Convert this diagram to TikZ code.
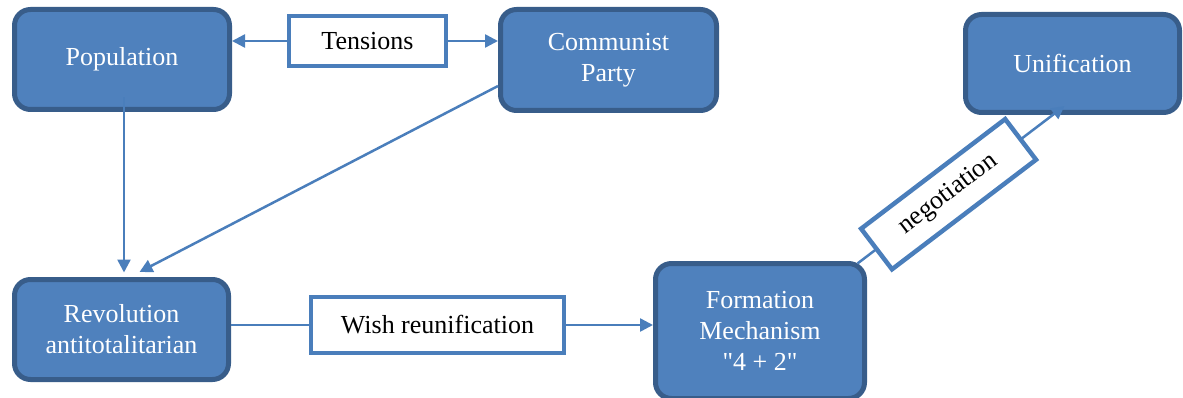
\documentclass[tikz,border=0pt]{standalone}
\usepackage{fontspec}
\setmainfont{Liberation Serif}
\usetikzlibrary{arrows.meta,calc}
\definecolor{boxfill}{HTML}{4F81BD}
\definecolor{boxedge}{HTML}{385D8A}
\definecolor{linkblue}{HTML}{4A7EBB}

\begin{document}
\begin{tikzpicture}[x=1pt,y=-1pt,
  stage/.style={draw=boxedge, fill=boxfill, line width=5pt, rounded corners=16pt,
    text=white, align=center, inner sep=0pt, font=\fontsize{26}{31}\selectfont},
  tag/.style={draw=linkblue, fill=white, line width=4.5pt, text=black,
    inner sep=0pt, font=\fontsize{26}{31}\selectfont},
  link/.style={draw=linkblue, line width=2.5pt},
  tip/.style={-{Triangle[length=13pt,width=13pt]}}
]
\useasboundingbox (0,0) rectangle (1183,398);

% process boxes
\node[stage, minimum width=215pt, minimum height=100pt] (pop)  at (122,59.5)   {Population};
\node[stage, minimum width=216pt, minimum height=101pt] (cp)   at (608.5,60)   {Communist\\Party};
\node[stage, minimum width=214pt, minimum height=98pt]  (uni)  at (1072.5,63.5){Unification};
\node[stage, minimum width=214pt, minimum height=100pt] (rev)  at (121.5,329.5){Revolution\\antitotalitarian};
\node[stage, minimum width=209pt, minimum height=135pt] (form) at (760,331)    {Formation\\Mechanism\\\textquotedbl 4 + 2\textquotedbl};

% labelled links
\node[tag, minimum width=157pt, minimum height=50pt] (tens) at (367.5,41) {Tensions};
\node[tag, minimum width=253pt, minimum height=56pt] (wish) at (437.5,325) {Wish reunification};

\draw[link,tip] (tens.west) -- (tens.west -| pop.east);
\draw[link,tip] (tens.east) -- (tens.east -| cp.west);

\draw[link,tip] ([shift={(2,-14.5)}]pop.south) -- ([shift={(2.5,-4.5)}]rev.north);
\draw[link,tip] ([shift={(0,26)}]cp.west) -- ([shift={(18,-5)}]rev.north);

\draw[link] (wish.west -| rev.east) -- (wish.west);
\draw[link,tip] (wish.east) -- (wish.east -| form.west);

\coordinate (negA) at ([shift={(-9.5,2.5)}]form.north east);
\coordinate (negB) at ([shift={(-8,-9)}]uni.south);
\draw[link,tip] (negA) -- node[tag, sloped, pos=0.44, minimum width=181pt, minimum height=51pt] (neg) {negotiation} (negB);
\end{tikzpicture}
\end{document}
